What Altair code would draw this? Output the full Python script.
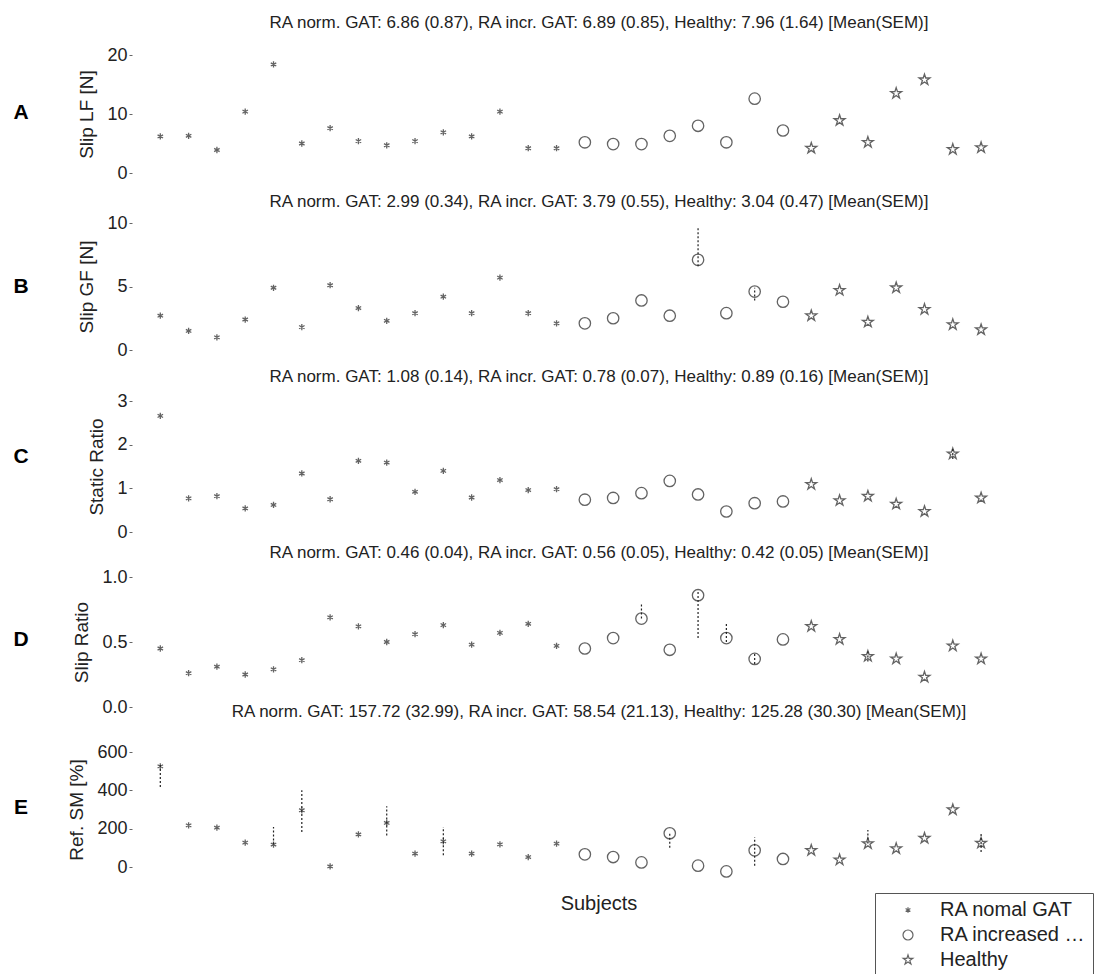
import altair as alt
import pandas as pd

# ---------------- data ----------------
subjects = list(range(1, 31))
group_names = ["RA nomal GAT", "RA increased GAT", "Healthy"]
groups = [group_names[0]] * 15 + [group_names[1]] * 8 + [group_names[2]] * 7

slip_lf = [6.2, 6.3, 3.9, 10.4, 18.4, 5.0, 7.6, 5.4, 4.7, 5.4, 6.9, 6.2, 10.4, 4.2, 4.2,
           5.2, 4.9, 4.9, 6.3, 8.0, 5.2, 12.6, 7.2,
           4.2, 8.9, 5.2, 13.5, 15.8, 4.0, 4.3]
slip_gf = [2.7, 1.5, 1.0, 2.4, 4.9, 1.8, 5.1, 3.3, 2.3, 2.9, 4.2, 2.9, 5.7, 2.9, 2.1,
           2.1, 2.5, 3.9, 2.7, 7.1, 2.9, 4.6, 3.8,
           2.7, 4.7, 2.2, 4.9, 3.2, 2.0, 1.6]
static_ratio = [2.66, 0.77, 0.82, 0.54, 0.62, 1.34, 0.75, 1.63, 1.59, 0.92, 1.40, 0.79, 1.19, 0.96, 0.98,
                0.74, 0.78, 0.89, 1.17, 0.86, 0.47, 0.66, 0.70,
                1.09, 0.72, 0.82, 0.64, 0.47, 1.79, 0.78]
slip_ratio = [0.45, 0.26, 0.31, 0.25, 0.29, 0.36, 0.69, 0.62, 0.50, 0.56, 0.63, 0.48, 0.57, 0.64, 0.47,
              0.45, 0.53, 0.68, 0.44, 0.86, 0.53, 0.37, 0.52,
              0.62, 0.52, 0.39, 0.37, 0.23, 0.47, 0.37]
ref_sm = [525, 217, 205, 127, 117, 296, 3, 170, 230, 70, 134, 70, 118, 52, 122,
          66, 52, 24, 176, 7, -23, 87, 42,
          87, 37, 122, 96, 150, 299, 125]

# visible error bars: subject, low, high
err_gf_subj = [20, 22]
err_gf_lo = [6.6, 3.9]
err_gf_hi = [9.7, 4.9]
err_sr_subj = [29]
err_sr_lo = [1.67]
err_sr_hi = [1.91]
err_slr_subj = [18, 20, 21, 22, 26]
err_slr_lo = [0.68, 0.53, 0.50, 0.33, 0.35]
err_slr_hi = [0.79, 0.90, 0.65, 0.41, 0.43]
err_sm_subj = [1, 5, 6, 9, 11, 19, 22, 26, 30]
err_sm_lo = [417, 117, 183, 165, 61, 101, 7, 122, 78]
err_sm_hi = [540, 209, 400, 317, 209, 176, 155, 193, 176]

titles = [
    "RA norm. GAT: 6.86 (0.87), RA incr. GAT: 6.89 (0.85), Healthy: 7.96 (1.64) [Mean(SEM)]",
    "RA norm. GAT: 2.99 (0.34), RA incr. GAT: 3.79 (0.55), Healthy: 3.04 (0.47) [Mean(SEM)]",
    "RA norm. GAT: 1.08 (0.14), RA incr. GAT: 0.78 (0.07), Healthy: 0.89 (0.16) [Mean(SEM)]",
    "RA norm. GAT: 0.46 (0.04), RA incr. GAT: 0.56 (0.05), Healthy: 0.42 (0.05) [Mean(SEM)]",
    "RA norm. GAT: 157.72 (32.99), RA incr. GAT: 58.54 (21.13), Healthy: 125.28 (30.30) [Mean(SEM)]",
]
letters = ["A", "B", "C", "D", "E"]
y_titles = ["Slip LF [N]", "Slip GF [N]", "Static Ratio", "Slip Ratio", "Ref. SM [%]"]
y_ticks = [[0, 10, 20], [0, 5, 10], [0, 1, 2, 3], [0, 0.5, 1], [0, 200, 400, 600]]

# ---------------- layout / style ----------------
FONT = "Liberation Sans"
INK = "#222222"
PLOT_W = 934
PLOT_H = 867
X_DOMAIN = [0, 33]
# one plot area; every panel has its own y scale mapped onto its own band
y_domains = [[0, 20], [0, 10], [0, 3], [0, 1], [0, 600]]
y_ranges = [[160, 42], [337, 210], [519, 388], [694, 564], [854, 739]]
title_y = [10, 189, 364, 540, 699]
letter_y = [100, 274, 444, 627, 795]
LETTER_X = -111
SUBJECTS_Y = 891

series = [slip_lf, slip_gf, static_ratio, slip_ratio, ref_sm]
errors = [
    None,
    (err_gf_subj, err_gf_lo, err_gf_hi),
    (err_sr_subj, err_sr_lo, err_sr_hi),
    (err_slr_subj, err_slr_lo, err_slr_hi),
    (err_sm_subj, err_sm_lo, err_sm_hi),
]

ASTERISK = "M0,-0.55L0,0.55M-0.48,-0.28L0.48,0.28M-0.48,0.28L0.48,-0.28"
STAR = ("M0,-1L0.2245,-0.309L0.951,-0.309L0.363,0.118L0.588,0.809L0,0.382"
        "L-0.588,0.809L-0.363,0.118L-0.951,-0.309L-0.2245,-0.309Z")
shape_scale = alt.Scale(domain=group_names, range=[ASTERISK, "circle", STAR])
xscale = alt.Scale(domain=X_DOMAIN, nice=False, zero=False)

layers = []
for i in range(5):
    df = pd.DataFrame({"subject": subjects, "group": groups, "val": series[i]})
    ysc = alt.Scale(domain=y_domains[i], range=y_ranges[i], nice=False, zero=False)
    yaxis = alt.Axis(values=y_ticks[i], title=y_titles[i], orient="left", grid=False,
                     domain=False, labelFont=FONT, labelFontSize=18, labelColor=INK,
                     titleFont=FONT, titleFontSize=19, titleFontWeight="normal",
                     titleColor=INK, titlePadding=10,
                     tickColor="#666666", tickSize=3, labelPadding=2)
    layers.append(
        alt.Chart(df).mark_point(filled=False, strokeWidth=1.3, color=INK, size=130).encode(
            x=alt.X("subject:Q", scale=xscale, axis=None),
            y=alt.Y("val:Q", scale=ysc, axis=yaxis),
            shape=alt.Shape("group:N", scale=shape_scale, legend=alt.Legend(title=None)),
        )
    )
    if errors[i] is not None:
        es, elo, ehi = errors[i]
        edf = pd.DataFrame({"subject": es, "lo": elo, "hi": ehi})
        ysc2 = alt.Scale(domain=y_domains[i], range=y_ranges[i], nice=False, zero=False)
        layers.append(
            alt.Chart(edf).mark_rule(color=INK, strokeWidth=1.2, strokeDash=[2, 2]).encode(
                x=alt.X("subject:Q", scale=xscale, axis=None),
                y=alt.Y("lo:Q", scale=ysc2, axis=None),
                y2=alt.Y2("hi:Q"),
            )
        )

for i in range(5):
    layers.append(
        alt.Chart(pd.DataFrame({"t": [titles[i]]})).mark_text(
            font=FONT, fontSize=17, color=INK, align="center", baseline="middle"
        ).encode(text=alt.Text("t:N"), x=alt.value(PLOT_W / 2), y=alt.value(title_y[i]))
    )
    layers.append(
        alt.Chart(pd.DataFrame({"t": [letters[i]]})).mark_text(
            font=FONT, fontSize=21, fontWeight="bold", color="#000000",
            align="center", baseline="middle"
        ).encode(text=alt.Text("t:N"), x=alt.value(LETTER_X), y=alt.value(letter_y[i]))
    )
layers.append(
    alt.Chart(pd.DataFrame({"t": ["Subjects"]})).mark_text(
        font=FONT, fontSize=20, color=INK, align="center", baseline="middle"
    ).encode(text=alt.Text("t:N"), x=alt.value(PLOT_W / 2), y=alt.value(SUBJECTS_Y))
)

chart = alt.layer(*layers).resolve_scale(y="independent").properties(
    width=PLOT_W, height=PLOT_H
).configure_view(
    strokeWidth=0
).configure_legend(
    orient="none", legendX=743, legendY=880,
    labelFont=FONT, labelFontSize=20, labelColor=INK,
    strokeColor="#555555", padding=7, symbolOffset=16, labelOffset=22,
    rowPadding=5, symbolStrokeWidth=1.2,
)

chart.save("out.html", embed_options={"renderer": "svg", "actions": False})
